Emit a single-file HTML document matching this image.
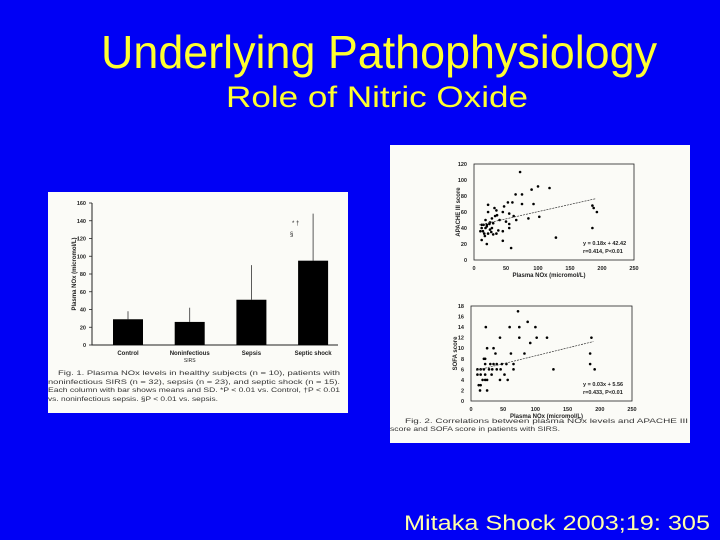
<!DOCTYPE html>
<html><head><meta charset="utf-8"><style>
html,body{margin:0;padding:0;background:#0000f5;}
svg{display:block;font-family:"Liberation Sans",sans-serif;}
</style></head><body>
<svg id="s" width="720" height="540" viewBox="0 0 720 540">
<rect x="0" y="0" width="720" height="540" fill="#0000f5"/>
<text x="379" y="68" text-anchor="middle" font-size="46" fill="#ffff30" textLength="556" lengthAdjust="spacingAndGlyphs">Underlying Pathophysiology</text>
<text x="377" y="107" text-anchor="middle" font-size="30" fill="#ffff30" textLength="302" lengthAdjust="spacingAndGlyphs">Role of Nitric Oxide</text>
<text x="557" y="530" text-anchor="middle" font-size="21" fill="#ffffa8" textLength="306" lengthAdjust="spacingAndGlyphs">Mitaka Shock 2003;19: 305</text>

<rect x="48" y="192" width="300" height="221" fill="#fbfbf7"/>
<g id="bar"></g>
<text x="58" y="375" font-size="6.3" fill="#333" textLength="282" lengthAdjust="spacingAndGlyphs">   Fig. 1.  Plasma NOx levels in healthy subjects (n = 10), patients with</text>
<text x="48" y="384" font-size="6.3" fill="#333" textLength="292" lengthAdjust="spacingAndGlyphs">noninfectious SIRS (n = 32), sepsis (n = 23), and septic shock (n = 15).</text>
<text x="48" y="392" font-size="6.3" fill="#333" textLength="292" lengthAdjust="spacingAndGlyphs">Each column with bar shows means and SD. *P &lt; 0.01 vs. Control, †P &lt; 0.01</text>
<text x="48" y="401" font-size="6.3" fill="#333" textLength="170" lengthAdjust="spacingAndGlyphs">vs. noninfectious sepsis. §P &lt; 0.01 vs. sepsis.</text>

<rect x="390" y="145" width="300" height="298" fill="#fbfbf7"/>
<g id="sc1"></g>
<g id="sc2"></g>
<text x="405" y="423" font-size="6.3" fill="#333" textLength="283" lengthAdjust="spacingAndGlyphs">Fig. 2.  Correlations between plasma NOx levels and APACHE III</text>
<text x="390" y="431" font-size="6.3" fill="#333" textLength="170" lengthAdjust="spacingAndGlyphs">score and SOFA score in patients with SIRS.</text>
</svg>
<script>
const barCategories=["Control","Noninfectious","Sepsis","Septic shock"];
const barMeans=[29,26,51,95];
const barSD=[9,16,39,53];
const barTicks=[0,20,40,60,80,100,120,140,160];

const apacheX=[72,100,118,90,65,75,53,60,75,93,22,47,32,35,45,55,36,62,85,102,22,28,33,40,18,25,12,15,20,24,30,50,55,55,66,10,14,18,20,25,28,16,22,30,38,45,12,20,45,58,128,185,187,192,185,12,27,35,17];
const apacheY=[110,92,90,88,82,82,72,72,70,70,69,67,65,62,60,58,56,55,52,54,60,52,55,50,50,47,44,44,44,45,46,48,45,40,50,36,36,40,42,38,40,33,33,32,37,36,25,20,24,15,28,68,65,60,40,40,35,33,30];
const apacheTicksY=[0,20,40,60,80,100,120];
const sofaX=[73,88,23,60,75,100,75,45,102,118,187,92,25,35,38,62,83,185,20,22,22,30,35,40,48,55,66,185,10,15,20,28,33,40,46,66,128,192,10,15,22,32,52,18,22,25,45,57,12,15,14,25];
const sofaY=[17,15,14,14,14,14,12,12,12,12,12,11,10,10,9,9,9,9,8,8,7,7,7,7,7,7,7,7,6,6,6,6,6,6,6,6,6,6,5,5,5,5,5,4,4,4,4,4,3,3,2,2];
const sofaTicksY=[0,2,4,6,8,10,12,14,16,18];
const xTicks=[0,50,100,150,200,250];
const apacheFit=[0.18,42.42];
const sofaFit=[0.03,5.56];

const NS="http://www.w3.org/2000/svg";
function mk(p,t,a,txt){const e=document.createElementNS(NS,t);for(const k in a)e.setAttribute(k,a[k]);if(txt!==undefined)e.textContent=txt;p.appendChild(e);return e;}

(function(){
const g=document.getElementById('bar');
const x0=92,x1=338,yb=345,yt=203,vmax=160;
const ys=v=>yb-(v/vmax)*(yb-yt);
const cx=i=>128+i*61.7;
let e=mk(g,'path',{d:`M${x0} ${yt}V${yb}H${x1}`,stroke:'#222',fill:'none','stroke-width':1});

barTicks.forEach(t=>{
 e=mk(g,'line',{x1:x0-3,x2:x0,y1:ys(t),y2:ys(t),stroke:'#222','stroke-width':0.8});
 
 e=mk(g,'text',{x:x0-6,y:ys(t)+2,'text-anchor':'end','font-size':5.5,'font-weight':'bold',fill:'#222'},t);
 
});
e=mk(g,'text',{transform:`translate(76,${(yb+yt)/2}) rotate(-90)`,'text-anchor':'middle','font-size':6,'font-weight':'bold',fill:'#222'},'Plasma NOx (micromol/L)');

barCategories.forEach((c,i)=>{
 const x=cx(i),top=ys(barMeans[i]);
 e=mk(g,'line',{x1:x,x2:x,y1:ys(barMeans[i]+barSD[i]),y2:top,stroke:'#333','stroke-width':0.8});
 
 e=mk(g,'rect',{x:x-15,y:top,width:30,height:yb-top,fill:'#000'});
 
 e=mk(g,'text',{x:x,y:355,'text-anchor':'middle','font-size':6,'font-weight':'bold',fill:'#222'},c);
 
});
e=mk(g,'text',{x:cx(1),y:362,'text-anchor':'middle','font-size':5,fill:'#222'},'SIRS');

e=mk(g,'text',{x:292,y:225,'font-size':6,fill:'#222'},'* †');

e=mk(g,'text',{x:290,y:236,'font-size':6,fill:'#222'},'§');

})();

function scatter(id,X,Y,ticksY,ymax,fit,box,ytitle,eq1,eq2){
 const g=document.getElementById(id);
 const xs=v=>box.x0+(v/250)*(box.x1-box.x0);
 const ys=v=>box.yb-(v/ymax)*(box.yb-box.yt);
 let e=mk(g,'rect',{x:box.x0,y:box.yt,width:box.x1-box.x0,height:box.yb-box.yt,fill:'none',stroke:'#222','stroke-width':0.8});
 
 ticksY.forEach(t=>{
  e=mk(g,'text',{x:box.x0-7,y:ys(t)+2,'text-anchor':'end','font-size':5.5,'font-weight':'bold',fill:'#222'},t);
  
 });
 xTicks.forEach(t=>{
  e=mk(g,'text',{x:xs(t),y:box.yb+10,'text-anchor':'middle','font-size':5.5,'font-weight':'bold',fill:'#222'},t);
  
 });
 e=mk(g,'text',{x:(box.x0+box.x1)/2-5,y:box.yb+17,'text-anchor':'middle','font-size':6,'font-weight':'bold',fill:'#222'},'Plasma NOx (micromol/L)');
 
 e=mk(g,'text',{transform:`translate(${box.x0-14},${(box.yb+box.yt)/2}) rotate(-90)`,'text-anchor':'middle','font-size':6,'font-weight':'bold',fill:'#222'},ytitle);
 
 X.forEach((x,i)=>{
  e=mk(g,'circle',{cx:xs(x),cy:ys(Y[i]),r:1.3,fill:'#000'});
  
 });
 e=mk(g,'line',{x1:xs(8),y1:ys(fit[0]*8+fit[1]),x2:xs(190),y2:ys(fit[0]*190+fit[1]),stroke:'#333','stroke-width':0.7,'stroke-dasharray':'2 1'});
 
 e=mk(g,'text',{x:583,y:box.yb-15,'font-size':5.5,'font-weight':'bold',fill:'#222'},eq1);
 
 e=mk(g,'text',{x:583,y:box.yb-7,'font-size':5.5,'font-weight':'bold',fill:'#222'},eq2);
 
}
scatter('sc1',apacheX,apacheY,apacheTicksY,120,apacheFit,{x0:474,x1:634,yb:260,yt:164},'APACHE III score','y = 0.18x + 42.42','r=0.414, P<0.01');
scatter('sc2',sofaX,sofaY,sofaTicksY,18,sofaFit,{x0:471,x1:632,yb:401,yt:306},'SOFA score','y = 0.03x + 5.56','r=0.433, P<0.01');
</script>
</body></html>
